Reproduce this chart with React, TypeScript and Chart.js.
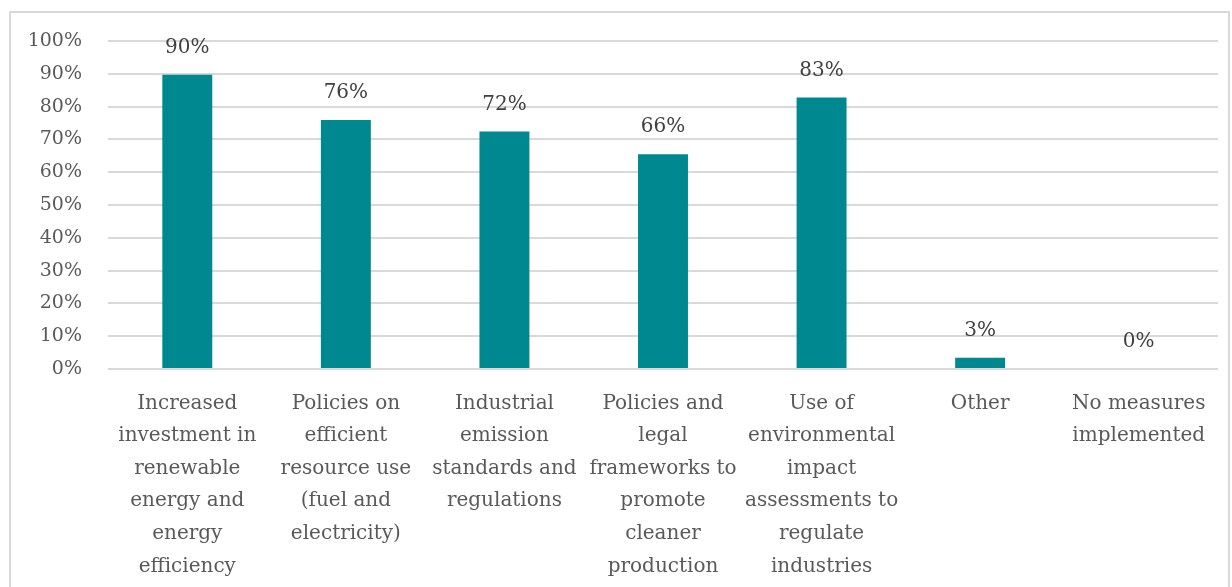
import React, { useEffect, useRef } from "react";
import { Chart, registerables } from "chart.js";

Chart.register(...registerables);

const categories: string[][] = [
  ["Increased", "investment in", "renewable", "energy and", "energy", "efficiency"],
  ["Policies on", "efficient", "resource use", "(fuel and", "electricity)"],
  ["Industrial", "emission", "standards and", "regulations"],
  ["Policies and", "legal", "frameworks to", "promote", "cleaner", "production"],
  ["Use of", "environmental", "impact", "assessments to", "regulate", "industries"],
  ["Other"],
  ["No measures", "implemented"],
];

const values: number[] = [89.7, 75.9, 72.4, 65.5, 82.8, 3.4, 0];

const yTicks: number[] = [0, 10, 20, 30, 40, 50, 60, 70, 80, 90, 100];

const FONT = "'DejaVu Serif', serif";

const valueLabels = {
  id: "valueLabels",
  afterDatasetsDraw(chart: any) {
    const ctx = chart.ctx;
    const meta = chart.getDatasetMeta(0);
    ctx.save();
    ctx.font = `20px ${FONT}`;
    ctx.fillStyle = "#404040";
    ctx.textAlign = "center";
    ctx.textBaseline = "middle";
    meta.data.forEach((bar: any, i: number) => {
      const v = chart.data.datasets[0].data[i] as number;
      ctx.fillText(`${Math.round(v)}%`, bar.x, bar.y - 27);
    });
    ctx.restore();
  },
};

export default function App() {
  const ref = useRef<HTMLCanvasElement | null>(null);

  useEffect(() => {
    if (!ref.current) return;
    const chart = new Chart(ref.current, {
      type: "bar",
      data: {
        labels: categories,
        datasets: [
          {
            data: values,
            backgroundColor: "#008891",
            barPercentage: 0.315,
            categoryPercentage: 1,
          },
        ],
      },
      options: {
        animation: false,
        responsive: false,
        maintainAspectRatio: false,
        layout: { padding: { left: 8, right: 14, top: 41, bottom: 0 } },
        plugins: {
          legend: { display: false },
          tooltip: { enabled: false },
        },
        scales: {
          x: {
            grid: { display: false, drawTicks: false },
            border: { display: false },
            afterFit: (s: any) => {
              s.height = 218;
            },
            ticks: {
              autoSkip: false,
              maxRotation: 0,
              minRotation: 0,
              padding: 18,
              color: "#595959",
              font: { family: FONT, size: 20, lineHeight: 1.63 },
            },
          },
          y: {
            min: 0,
            max: 100,
            afterFit: (s: any) => {
              s.width = 100;
            },
            afterBuildTicks: (s: any) => {
              s.ticks = yTicks.map((v) => ({ value: v }));
            },
            grid: { color: "#d9d9d9", lineWidth: 2, drawTicks: false },
            border: { display: false },
            ticks: {
              padding: 26,
              color: "#595959",
              font: { family: FONT, size: 19 },
              callback: (v: any) => `${v}%`,
            },
          },
        },
      },
      plugins: [valueLabels],
    });
    return () => chart.destroy();
  }, []);

  return (
    <div style={{ position: "fixed", left: 0, top: 0, width: 1232, height: 587, background: "#fff", overflow: "hidden" }}>
      <div
        style={{
          position: "absolute",
          left: 9,
          top: 11,
          width: 1221,
          height: 600,
          border: "2px solid #d9d9d9",
          boxSizing: "border-box",
        }}
      />
      <canvas ref={ref} width={1232} height={587} style={{ position: "absolute", left: 0, top: 0 }} />
    </div>
  );
}
